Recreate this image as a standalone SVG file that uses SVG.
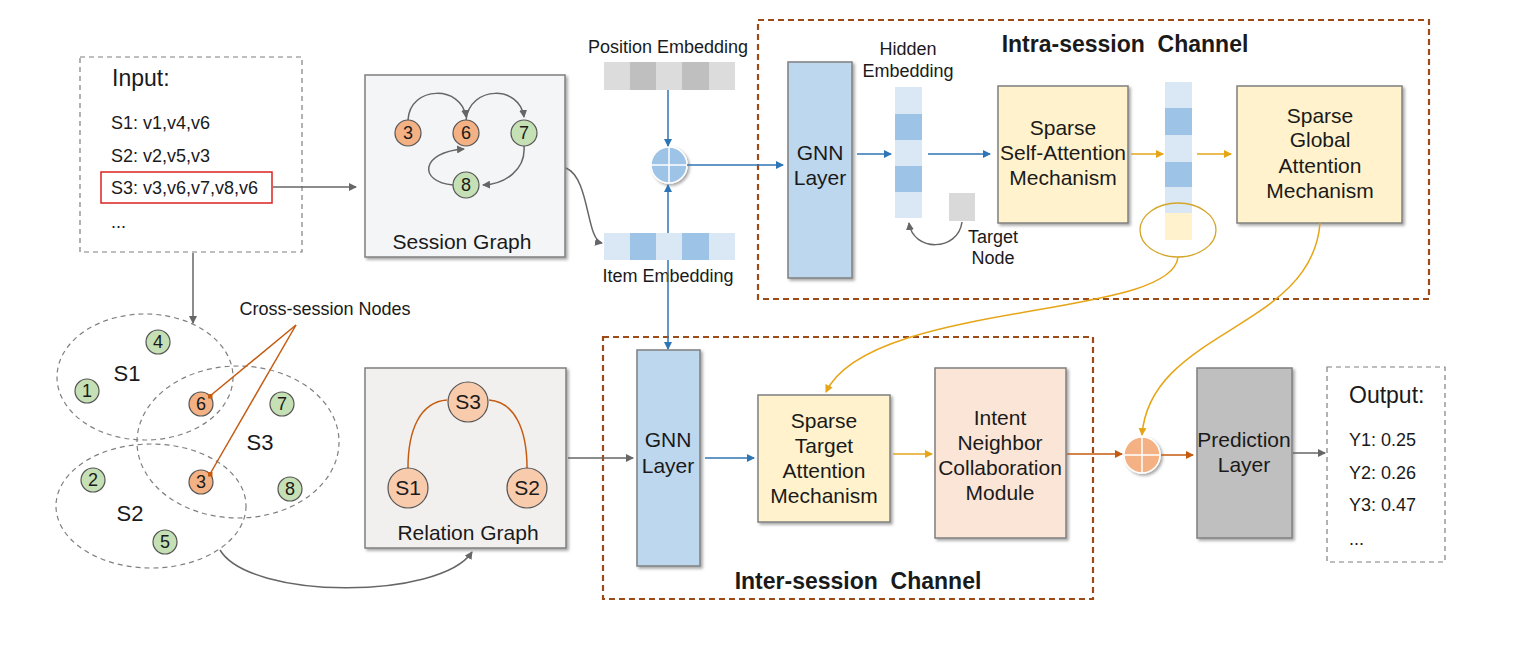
<svg xmlns="http://www.w3.org/2000/svg" width="1524" height="650" viewBox="0 0 1524 650">
<style>
text{font-family:"Liberation Sans",Arial,sans-serif;fill:#1a1a1a;white-space:pre}
.t18{font-size:18px}.t21{font-size:21px}.t22{font-size:22px}.t23{font-size:23px}
.title{font-size:23px;font-weight:bold}
.box{stroke:#7f7f7f;stroke-width:1.5}
.dash{fill:none;stroke:#7f7f7f;stroke-width:1.2;stroke-dasharray:5 4}
.chan{fill:none;stroke:#9c4a17;stroke-width:2.2;stroke-dasharray:6 4}
.blue{fill:none;stroke:#2e75b6;stroke-width:1.5}
.gold{fill:none;stroke:#e6a517;stroke-width:1.5}
.org{fill:none;stroke:#c55a11;stroke-width:1.5}
.grey{fill:none;stroke:#666;stroke-width:1.5}
.ng{fill:#c5e0b4;stroke:#555;stroke-width:1.2}
.no{fill:#f4b183;stroke:#555;stroke-width:1.2}
.lb{fill:#dae8f5}.db{fill:#9dc3e6}
</style>
<defs>
<filter id="sh" x="-10%" y="-10%" width="130%" height="130%"><feDropShadow dx="2" dy="2" stdDeviation="1.5" flood-color="#000" flood-opacity="0.35"/></filter>
<marker id="aB" markerWidth="8" markerHeight="8" refX="7" refY="4" orient="auto" markerUnits="userSpaceOnUse"><path d="M0,0 L8,4 L0,8 z" fill="#2e75b6"/></marker>
<marker id="aG" markerWidth="8" markerHeight="8" refX="7" refY="4" orient="auto" markerUnits="userSpaceOnUse"><path d="M0,0 L8,4 L0,8 z" fill="#e6a517"/></marker>
<marker id="aO" markerWidth="8" markerHeight="8" refX="7" refY="4" orient="auto" markerUnits="userSpaceOnUse"><path d="M0,0 L8,4 L0,8 z" fill="#c55a11"/></marker>
<marker id="aK" markerWidth="8" markerHeight="8" refX="7" refY="4" orient="auto" markerUnits="userSpaceOnUse"><path d="M0,0 L8,4 L0,8 z" fill="#666"/></marker>
<marker id="sq" markerWidth="5" markerHeight="5" refX="2.5" refY="2.5" markerUnits="userSpaceOnUse"><rect width="5" height="5" fill="#c55a11"/></marker>
</defs>
<rect width="1524" height="650" fill="#fff"/>

<g id="input">
<rect x="80" y="57" width="222" height="195" class="dash"/>
<text x="112" y="86" class="t23">Input:</text>
<text x="111" y="129" class="t18">S1: v1,v4,v6</text>
<text x="111" y="162" class="t18">S2: v2,v5,v3</text>
<rect x="101" y="172" width="171" height="31" fill="none" stroke="#d22" stroke-width="1.5"/>
<text x="111" y="194" class="t18">S3: v3,v6,v7,v8,v6</text>
<text x="111" y="228" class="t18">...</text>
</g>

<g id="session-graph">
<rect x="365" y="75" width="200" height="182" fill="#f4f5f7" class="box" filter="url(#sh)"/>
<path d="M408,120 C410,85 462,85 466,117" class="grey" marker-end="url(#aK)"/>
<path d="M466,120 C470,85 520,85 524,117" class="grey" marker-end="url(#aK)"/>
<path d="M524,146 C526,170 505,184 483,185" class="grey" marker-end="url(#aK)"/>
<path d="M453,185 C418,182 420,152 464,149" class="grey" marker-end="url(#aK)"/>
<circle cx="408" cy="133" r="13" class="no"/><text x="408" y="139" text-anchor="middle" class="t18">3</text>
<circle cx="466" cy="133" r="13" class="no"/><text x="466" y="139" text-anchor="middle" class="t18">6</text>
<circle cx="524" cy="133" r="13" class="ng"/><text x="524" y="139" text-anchor="middle" class="t18">7</text>
<circle cx="466" cy="185" r="13" class="ng"/><text x="466" y="191" text-anchor="middle" class="t18">8</text>
<text x="462" y="249" text-anchor="middle" class="t21">Session Graph</text>
</g>

<g id="position-embedding">
<text x="668" y="53" text-anchor="middle" class="t18">Position Embedding</text>
<rect x="604" y="62" width="26" height="28" fill="#dcdcdc"/>
<rect x="630" y="62" width="26" height="28" fill="#bfbfbf"/>
<rect x="656" y="62" width="26" height="28" fill="#dcdcdc"/>
<rect x="682" y="62" width="27" height="28" fill="#bfbfbf"/>
<rect x="709" y="62" width="26" height="28" fill="#dcdcdc"/>
</g>

<g id="item-embedding">
<rect x="604" y="233" width="26" height="27" class="lb"/>
<rect x="630" y="233" width="26" height="27" class="db"/>
<rect x="656" y="233" width="26" height="27" class="lb"/>
<rect x="682" y="233" width="27" height="27" class="db"/>
<rect x="709" y="233" width="26" height="27" class="lb"/>
<text x="668" y="282" text-anchor="middle" class="t18">Item Embedding</text>
</g>

<g id="plus-blue">
<circle cx="669" cy="165" r="18" fill="#9dc3e6" stroke="#fff" stroke-width="1.5" filter="url(#sh)"/>
<path d="M651,165 H687 M669,147 V183" stroke="#fff" stroke-width="1.5"/>
</g>

<g id="intra-channel">
<rect x="758" y="20" width="671" height="279" class="chan"/>
<text x="1125" y="52" text-anchor="middle" class="title">Intra-session  Channel</text>
</g>

<g id="gnn-intra">
<rect x="788" y="62" width="64" height="216" fill="#bdd7ee" class="box" filter="url(#sh)"/>
<text x="820" y="160" text-anchor="middle" class="t21">GNN</text>
<text x="820" y="185" text-anchor="middle" class="t21">Layer</text>
</g>

<g id="hidden-embedding">
<text x="908" y="55" text-anchor="middle" class="t18">Hidden</text>
<text x="908" y="77" text-anchor="middle" class="t18">Embedding</text>
<rect x="895" y="87" width="27" height="27" class="lb"/>
<rect x="895" y="114" width="27" height="26" class="db"/>
<rect x="895" y="140" width="27" height="26" class="lb"/>
<rect x="895" y="166" width="27" height="26" class="db"/>
<rect x="895" y="192" width="27" height="26" class="lb"/>
</g>

<g id="target-node">
<rect x="949" y="193" width="26" height="28" fill="#d9d9d9"/>
<text x="993" y="243" text-anchor="middle" class="t18">Target</text>
<text x="993" y="264" text-anchor="middle" class="t18">Node</text>
</g>

<g id="sparse-self">
<rect x="998" y="86" width="130" height="137" fill="#fff2cc" class="box" filter="url(#sh)"/>
<text x="1063" y="135" text-anchor="middle" class="t21">Sparse</text>
<text x="1063" y="160" text-anchor="middle" class="t21">Self-Attention</text>
<text x="1063" y="185" text-anchor="middle" class="t21">Mechanism</text>
</g>

<g id="attn-embedding">
<rect x="1165" y="82" width="27" height="26" class="lb"/>
<rect x="1165" y="108" width="27" height="27" class="db"/>
<rect x="1165" y="135" width="27" height="27" class="lb"/>
<rect x="1165" y="162" width="27" height="25" class="db"/>
<rect x="1165" y="187" width="27" height="26" class="lb"/>
<rect x="1165" y="213" width="27" height="27" fill="#fff2cc"/>
<ellipse cx="1178" cy="230" rx="38" ry="27" fill="none" stroke="#d4a62a" stroke-width="1.3"/>
</g>

<g id="sparse-global">
<rect x="1237" y="86" width="165" height="137" fill="#fff2cc" class="box" filter="url(#sh)"/>
<text x="1320" y="123" text-anchor="middle" class="t21">Sparse</text>
<text x="1320" y="147" text-anchor="middle" class="t21">Global</text>
<text x="1320" y="173" text-anchor="middle" class="t21">Attention</text>
<text x="1320" y="198" text-anchor="middle" class="t21">Mechanism</text>
</g>

<g id="venn">
<ellipse cx="145" cy="377" rx="88" ry="63" class="dash" stroke="#555"/>
<ellipse cx="238" cy="442" rx="101" ry="76" class="dash" stroke="#555"/>
<ellipse cx="151" cy="506" rx="95" ry="62" class="dash" stroke="#555"/>
<text x="127" y="381" text-anchor="middle" class="t22">S1</text>
<text x="260" y="450" text-anchor="middle" class="t22">S3</text>
<text x="130" y="521" text-anchor="middle" class="t22">S2</text>
<circle cx="158" cy="342" r="12" class="ng"/><text x="158" y="348" text-anchor="middle" class="t18">4</text>
<circle cx="87" cy="391" r="12" class="ng"/><text x="87" y="397" text-anchor="middle" class="t18">1</text>
<circle cx="201" cy="404" r="12" class="no"/><text x="201" y="410" text-anchor="middle" class="t18">6</text>
<circle cx="282" cy="404" r="12" class="ng"/><text x="282" y="410" text-anchor="middle" class="t18">7</text>
<circle cx="201" cy="482" r="12" class="no"/><text x="201" y="488" text-anchor="middle" class="t18">3</text>
<circle cx="290" cy="489" r="12" class="ng"/><text x="290" y="495" text-anchor="middle" class="t18">8</text>
<circle cx="93" cy="480" r="12" class="ng"/><text x="93" y="486" text-anchor="middle" class="t18">2</text>
<circle cx="165" cy="542" r="12" class="ng"/><text x="165" y="548" text-anchor="middle" class="t18">5</text>
<text x="325" y="315" text-anchor="middle" class="t18">Cross-session Nodes</text>
<path d="M296,325 L210,396" class="org" stroke-width="1.3" marker-end="url(#sq)"/>
<path d="M296,325 L210,474" class="org" stroke-width="1.3" marker-end="url(#sq)"/>
</g>

<g id="relation-graph">
<rect x="365" y="368" width="201" height="180" fill="#f2f0ee" class="box" filter="url(#sh)"/>
<path d="M447,400 C420,402 408,430 408,468" class="org" stroke-width="1.3"/>
<path d="M489,400 C515,402 527,430 527,468" class="org" stroke-width="1.3"/>
<circle cx="468" cy="402" r="20" fill="#f8cbad" stroke="#555" stroke-width="1.2"/><text x="468" y="409" text-anchor="middle" class="t21">S3</text>
<circle cx="408" cy="488" r="20" fill="#f8cbad" stroke="#555" stroke-width="1.2"/><text x="408" y="495" text-anchor="middle" class="t21">S1</text>
<circle cx="527" cy="488" r="20" fill="#f8cbad" stroke="#555" stroke-width="1.2"/><text x="527" y="495" text-anchor="middle" class="t21">S2</text>
<text x="468" y="540" text-anchor="middle" class="t21">Relation Graph</text>
</g>

<g id="inter-channel">
<rect x="603" y="337" width="490" height="262" class="chan"/>
<text x="858" y="589" text-anchor="middle" class="title">Inter-session  Channel</text>
</g>

<g id="gnn-inter">
<rect x="637" y="350" width="63" height="216" fill="#bdd7ee" class="box" filter="url(#sh)"/>
<text x="668" y="447" text-anchor="middle" class="t21">GNN</text>
<text x="668" y="473" text-anchor="middle" class="t21">Layer</text>
</g>

<g id="sparse-target">
<rect x="758" y="395" width="132" height="127" fill="#fff2cc" class="box" filter="url(#sh)"/>
<text x="824" y="428" text-anchor="middle" class="t21">Sparse</text>
<text x="824" y="453" text-anchor="middle" class="t21">Target</text>
<text x="824" y="478" text-anchor="middle" class="t21">Attention</text>
<text x="824" y="503" text-anchor="middle" class="t21">Mechanism</text>
</g>

<g id="intent-neighbor">
<rect x="935" y="368" width="131" height="170" fill="#fbe5d6" class="box" filter="url(#sh)"/>
<text x="1000" y="425" text-anchor="middle" class="t21">Intent</text>
<text x="1000" y="450" text-anchor="middle" class="t21">Neighbor</text>
<text x="1000" y="475" text-anchor="middle" class="t21">Collaboration</text>
<text x="1000" y="500" text-anchor="middle" class="t21">Module</text>
</g>

<g id="plus-orange">
<circle cx="1142" cy="455" r="18" fill="#f4b183" stroke="#fff" stroke-width="1.5" filter="url(#sh)"/>
<path d="M1124,455 H1160 M1142,437 V473" stroke="#fff" stroke-width="1.5"/>
</g>

<g id="prediction">
<rect x="1197" y="368" width="95" height="170" fill="#bfbfbf" class="box" filter="url(#sh)"/>
<text x="1244" y="447" text-anchor="middle" class="t21">Prediction</text>
<text x="1244" y="472" text-anchor="middle" class="t21">Layer</text>
</g>

<g id="output">
<rect x="1327" y="367" width="118" height="195" class="dash"/>
<text x="1349" y="403" class="t23">Output:</text>
<text x="1349" y="446" class="t18">Y1: 0.25</text>
<text x="1349" y="479" class="t18">Y2: 0.26</text>
<text x="1349" y="511" class="t18">Y3: 0.47</text>
<text x="1349" y="545" class="t18">...</text>
</g>

<g id="connectors">
<path d="M273,187 H356" class="grey" marker-end="url(#aK)"/>
<path d="M193,253 V323" class="grey" marker-end="url(#aK)"/>
<path d="M566,168 C590,178 586,240 602,243" class="grey" marker-end="url(#aK)"/>
<path d="M668,90 V146" class="blue" marker-end="url(#aB)"/>
<path d="M668,233 V185" class="blue" marker-end="url(#aB)"/>
<path d="M668,260 V349" class="blue" marker-end="url(#aB)"/>
<path d="M687,165 H783" class="blue" marker-end="url(#aB)"/>
<path d="M857,154 H891" class="blue" marker-end="url(#aB)"/>
<path d="M928,154 H990" class="blue" marker-end="url(#aB)"/>
<path d="M962,222 C958,252 913,252 909,223" class="grey" marker-end="url(#aK)"/>
<path d="M1131,154 H1163" class="gold" marker-end="url(#aG)"/>
<path d="M1197,154 H1231" class="gold" marker-end="url(#aG)"/>
<path d="M1178,257 C1172,320 870,300 826,392" class="gold" marker-end="url(#aG)"/>
<path d="M1320,223 C1312,330 1150,330 1142,435" class="gold" marker-end="url(#aG)"/>
<path d="M568,458 H633" class="grey" marker-end="url(#aK)"/>
<path d="M220,550 C250,600 440,600 472,552" class="grey" marker-end="url(#aK)"/>
<path d="M705,458 H754" class="blue" marker-end="url(#aB)"/>
<path d="M893,454 H932" class="gold" marker-end="url(#aG)"/>
<path d="M1067,454 H1122" class="org" marker-end="url(#aO)"/>
<path d="M1161,455 H1193" class="org" marker-end="url(#aO)"/>
<path d="M1293,453 H1325" class="grey" marker-end="url(#aK)"/>
</g>
</svg>
